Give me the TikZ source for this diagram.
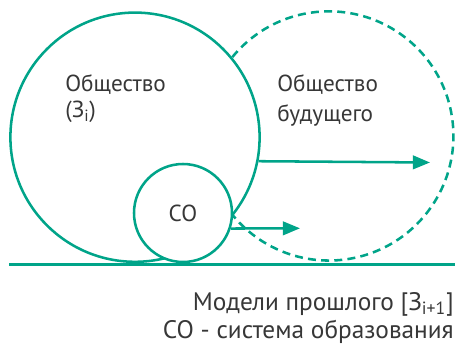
\documentclass[tikz,border=0pt]{standalone}
\usepackage{fontspec}
\setmainfont{PT Sans}
\usetikzlibrary{arrows.meta}
\definecolor{sea}{RGB}{0,164,137}
\definecolor{ink}{RGB}{55,55,55}
\tikzset{
  ring/.style={circle, draw=sea, line width=1.8pt, inner sep=0pt},
  pushline/.style={draw=sea, line width=1.8pt, -{Triangle[length=0.43cm, width=0.34cm]}},
  caption/.style={text=ink, inner sep=0pt, font=\fontsize{16.5}{#1}\selectfont},
}
\begin{document}
\begin{tikzpicture}
        \useasboundingbox (0,0) rectangle (11.375,8.6);
        \node[ring, minimum size=6.23cm] (now) at (3.375,5.17) {};
        \node[circle, inner sep=0pt, minimum size=6.23cm] (next) at (8.2,5.165) {};
        \draw[sea, line width=1.8pt, dash pattern=on 0.2cm off 0.13cm]
            (next.140.76) arc[start angle=140.76, end angle=-140.76, radius=3.115cm];
        \node[ring, fill=white, minimum size=2.45cm, caption=20pt] (edu) at (4.575,3.275) {СО};
        \draw[sea, line width=2pt] (0.225,1.98) coordinate (g0) -- (11.375,1.98) coordinate (g1);
        \coordinate (tipa) at (10.75,4.5375);
        \coordinate (tipb) at (7.5,2.8925);
        \draw[pushline] (now.-11.71) -- (tipa);
        \draw[pushline] (edu.-18.2) -- (tipb);
        \node[caption=18.7pt, align=left, anchor=north west] (lnow) at (1.625,6.75)
            {Общество\\(З\textsubscript{i})};
        \node[caption=21.3pt, align=left, anchor=north west] (lnext) at (6.925,6.75)
            {Общество\\будущего};
        \node[caption=20pt, font=\fontsize{18}{20}\selectfont, align=right, anchor=north east] (legend) at (11.35,1.3)
            {Модели прошлого [З\textsubscript{i+1}]\\СО - система образования};
    \end{tikzpicture}
\end{document}
